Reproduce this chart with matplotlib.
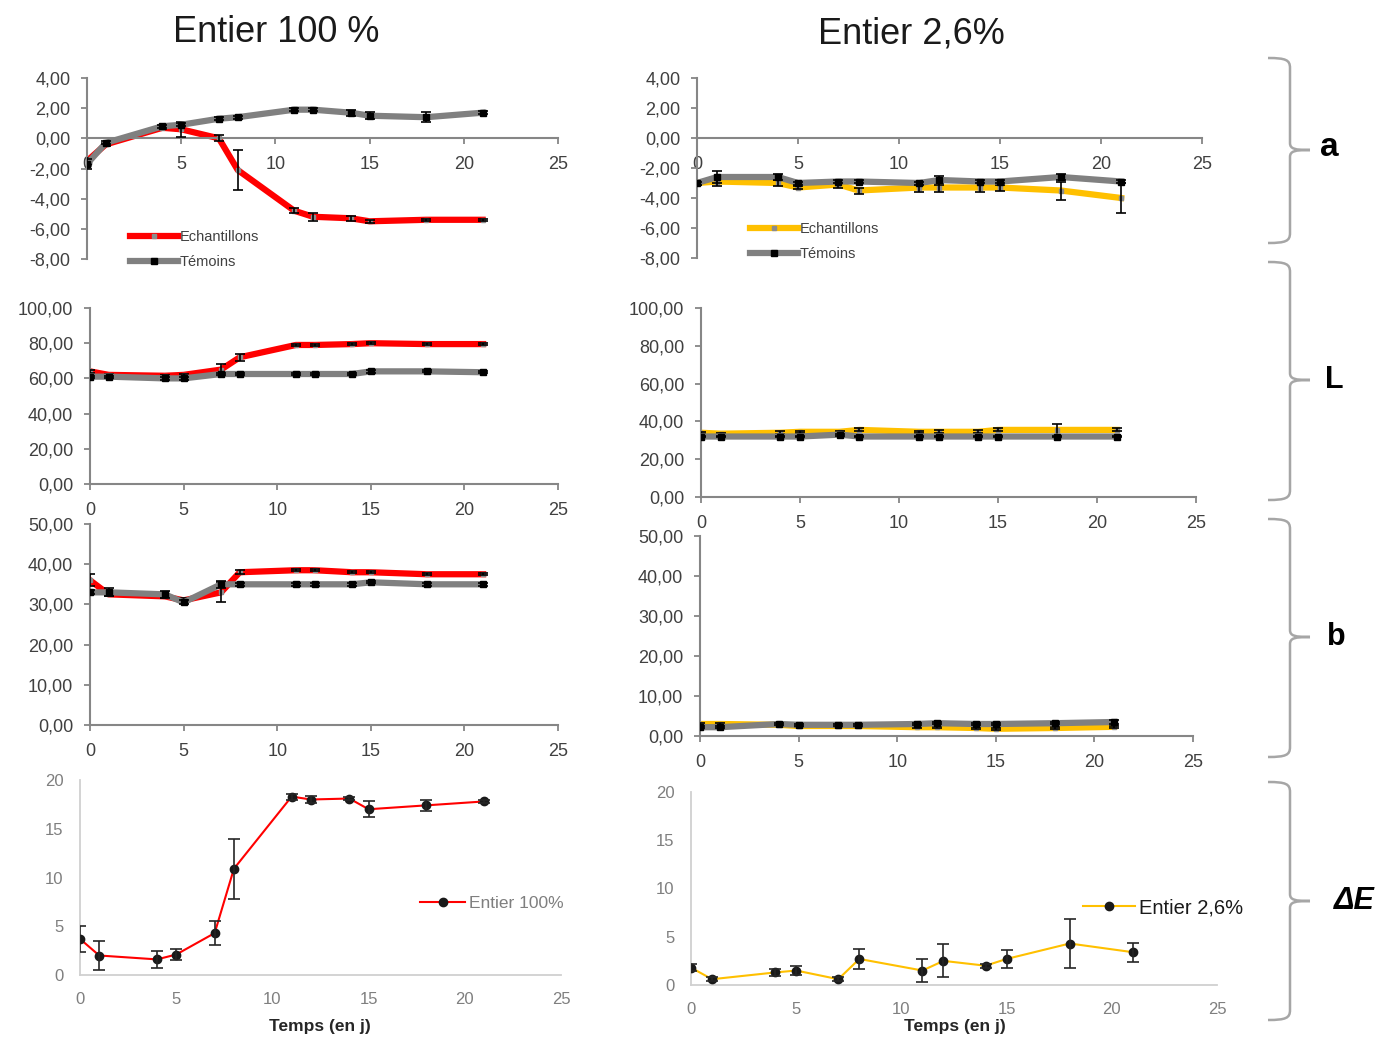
import matplotlib.pyplot as plt
import numpy as np
from matplotlib.path import Path
from matplotlib.patches import PathPatch
from matplotlib.ticker import FuncFormatter, MultipleLocator

plt.rcParams['font.family'] = ['Liberation Sans', 'DejaVu Sans']

# Days of measurement
days = [0, 1, 4, 5, 7, 8, 11, 12, 14, 15, 18, 21]

# Parameter a
a_100_ech = [-1.5, -0.4, 0.7, 0.6, 0.0, -2.1, -4.8, -5.2, -5.3, -5.5, -5.4, -5.4]
a_100_ech_err = [0.2, 0.1, 0.1, 0.5, 0.2, 1.3, 0.15, 0.25, 0.15, 0.1, 0.05, 0.05]
a_100_tem = [-1.7, -0.3, 0.8, 0.9, 1.3, 1.4, 1.9, 1.9, 1.7, 1.5, 1.4, 1.7]
a_100_tem_err = [0.3, 0.1, 0.1, 0.1, 0.1, 0.1, 0.1, 0.1, 0.2, 0.25, 0.35, 0.1]
a_26_ech = [-3.0, -2.9, -3.0, -3.3, -3.1, -3.5, -3.3, -3.3, -3.3, -3.3, -3.5, -4.0]
a_26_ech_err = [0.1, 0.3, 0.2, 0.1, 0.2, 0.2, 0.3, 0.3, 0.3, 0.2, 0.6, 1.0]
a_26_tem = [-3.0, -2.6, -2.6, -3.0, -2.9, -2.9, -3.0, -2.8, -2.9, -2.9, -2.6, -2.9]
a_26_tem_err = [0.1, 0.4, 0.2, 0.1, 0.1, 0.1, 0.1, 0.3, 0.1, 0.1, 0.2, 0.1]

# Parameter L
L_100_ech = [64, 62, 61.5, 62, 65, 72, 79, 79, 79.5, 80, 79.5, 79.5]
L_100_ech_err = [1.0, 0.5, 0.5, 0.5, 3.0, 2.0, 0.8, 0.8, 0.5, 0.5, 0.5, 0.5]
L_100_tem = [61, 61, 60, 60, 62.5, 62.5, 62.5, 62.5, 62.5, 64, 64, 63.5]
L_100_tem_err = [0.5, 0.5, 0.8, 0.8, 0.8, 0.5, 0.5, 0.5, 0.8, 0.8, 0.5, 0.5]
L_26_ech = [34, 33.5, 34, 34.5, 34.5, 35.5, 34.5, 34.5, 34.5, 35.5, 35.5, 35.5]
L_26_ech_err = [0.5, 0.5, 0.8, 0.5, 0.5, 0.8, 0.5, 0.8, 0.8, 0.8, 3.0, 0.8]
L_26_tem = [32, 32, 32, 32, 33, 32, 32, 32, 32, 32, 32, 32]
L_26_tem_err = [0.5, 0.5, 0.5, 0.5, 0.5, 0.5, 0.5, 0.5, 0.5, 0.5, 0.5, 0.5]

# Parameter b
b_100_ech = [36, 32.5, 32, 31, 33, 38, 38.5, 38.5, 38, 38, 37.5, 37.5]
b_100_ech_err = [1.5, 0.5, 0.5, 0.5, 2.5, 0.5, 0.3, 0.3, 0.3, 0.3, 0.3, 0.3]
b_100_tem = [33, 33, 32.5, 30.5, 35, 35, 35, 35, 35, 35.5, 35, 35]
b_100_tem_err = [0.5, 1.0, 0.8, 0.5, 0.8, 0.3, 0.3, 0.3, 0.3, 0.3, 0.3, 0.3]
b_26_ech = [3.0, 3.0, 2.8, 2.5, 2.5, 2.5, 2.2, 2.2, 2.0, 1.8, 2.0, 2.3]
b_26_ech_err = [0.2, 0.2, 0.2, 0.2, 0.2, 0.2, 0.2, 0.2, 0.2, 0.3, 0.2, 0.3]
b_26_tem = [2.2, 2.2, 3.0, 2.8, 2.8, 2.8, 3.0, 3.2, 3.0, 3.0, 3.2, 3.5]
b_26_tem_err = [0.3, 0.3, 0.3, 0.3, 0.3, 0.3, 0.3, 0.3, 0.3, 0.3, 0.3, 0.5]

# Delta E
dE_100 = [3.7, 2.0, 1.6, 2.1, 4.3, 10.9, 18.3, 18.0, 18.1, 17.0, 17.4, 17.8]
dE_100_err = [1.3, 1.5, 0.9, 0.6, 1.2, 3.1, 0.3, 0.4, 0.2, 0.8, 0.6, 0.2]
dE_26 = [1.8, 0.6, 1.3, 1.5, 0.6, 2.7, 1.5, 2.5, 2.0, 2.7, 4.3, 3.4]
dE_26_err = [0.4, 0.2, 0.4, 0.5, 0.2, 1.0, 1.2, 1.7, 0.2, 0.9, 2.5, 1.0]

W, H = 1384, 1041
fig = plt.figure(figsize=(W / 100, H / 100), dpi=100)

RED = '#ff0000'
YEL = '#ffc000'
GRAY = '#808080'
AX_COL = '#868686'


def box(x0, x1, top, bottom):
    # pixel box -> figure fraction rect
    return [x0 / W, 1 - bottom / H, (x1 - x0) / W, (bottom - top) / H]


def comma(v, pos):
    return f"{v:.2f}".replace('.', ',').replace('-0,00', '0,00')


def lab_panel(rect, ylim, step, cross_zero=False):
    ax = fig.add_axes(rect)
    ax.set_xlim(0, 25)
    ax.set_ylim(*ylim)
    ax.xaxis.set_major_locator(MultipleLocator(5))
    ax.yaxis.set_major_locator(MultipleLocator(step))
    ax.yaxis.set_major_formatter(FuncFormatter(comma))
    for s in ['top', 'right']:
        ax.spines[s].set_visible(False)
    for s in ['left', 'bottom']:
        ax.spines[s].set_color(AX_COL)
        ax.spines[s].set_linewidth(1.5)
    if cross_zero:
        ax.spines['bottom'].set_position(('data', 0))
    ax.tick_params(colors=AX_COL, labelcolor='#404040', labelsize=13,
                   length=4, width=1.3, direction='out')
    ax.tick_params(axis='y', pad=8)
    ax.tick_params(axis='x', pad=9)
    ax.patch.set_visible(False)
    return ax


def draw_pair(ax, ech, ech_err, tem, tem_err, col):
    ax.plot(days, ech, color=col, lw=4.5, marker='s', ms=3, mfc='#8c8c8c',
            mec='#8c8c8c', label='Echantillons', zorder=2, solid_joinstyle='round')
    ax.errorbar(days, ech, yerr=ech_err, fmt='none', ecolor='black',
                elinewidth=1.2, capsize=3.5, capthick=1.2, zorder=3)
    ax.plot(days, tem, color=GRAY, lw=4.5, marker='s', ms=4.5, mfc='black',
            mec='black', label='Témoins', zorder=4, solid_joinstyle='round')
    ax.errorbar(days, tem, yerr=tem_err, fmt='none', ecolor='black',
                elinewidth=1.2, capsize=3.5, capthick=1.2, zorder=5)


def de_panel(rect, vals, err, col, label, leg_anchor, leg_size, leg_color, xlab_x):
    ax = fig.add_axes(rect)
    ax.set_xlim(0, 25)
    ax.set_ylim(0, 20)
    ax.xaxis.set_major_locator(MultipleLocator(5))
    ax.yaxis.set_major_locator(MultipleLocator(5))
    for s in ['top', 'right']:
        ax.spines[s].set_visible(False)
    for s in ['left', 'bottom']:
        ax.spines[s].set_color('#d0d0d0')
        ax.spines[s].set_linewidth(1.3)
    ax.tick_params(length=0, labelcolor='#7f7f7f', labelsize=12)
    ax.tick_params(axis='y', pad=12)
    ax.tick_params(axis='x', pad=12)
    ax.plot(days, vals, color=col, lw=1.5, marker='o', ms=6, mfc='#1a1a1a',
            mec='#1a1a1a', label=label, zorder=3)
    ax.errorbar(days, vals, yerr=err, fmt='none', ecolor='#262626',
                elinewidth=1.2, capsize=4, capthick=1.2, zorder=4)
    fig.text(xlab_x / W, 1 - 1027 / H, 'Temps (en j)', fontsize=12.5,
             fontweight='bold', color='#262626', ha='center', va='center')
    leg = ax.legend(loc='center left', bbox_to_anchor=leg_anchor,
                    bbox_transform=fig.transFigure, frameon=False,
                    fontsize=leg_size, handlelength=2.6, handletextpad=0.2,
                    borderpad=0, borderaxespad=0)
    for t in leg.get_texts():
        t.set_color(leg_color)
    ax.patch.set_visible(False)
    return ax


def small_legend(ax, x, ytop):
    leg = ax.legend(loc='upper left', bbox_to_anchor=(x / W, 1 - ytop / H),
                    bbox_transform=fig.transFigure, frameon=False, fontsize=10.5,
                    handlelength=3.3, handletextpad=0.1, labelspacing=0.75,
                    borderpad=0, borderaxespad=0)
    for t in leg.get_texts():
        t.set_color('#404040')


# a panels
ax = lab_panel(box(87, 558, 78, 259), (-8, 4), 2, cross_zero=True)
draw_pair(ax, a_100_ech, a_100_ech_err, a_100_tem, a_100_tem_err, RED)
small_legend(ax, 130, 230)

ax = lab_panel(box(697, 1202, 78, 258), (-8, 4), 2, cross_zero=True)
draw_pair(ax, a_26_ech, a_26_ech_err, a_26_tem, a_26_tem_err, YEL)
small_legend(ax, 750, 222)

# L panels
ax = lab_panel(box(90, 558, 308, 484), (0, 100), 20)
draw_pair(ax, L_100_ech, L_100_ech_err, L_100_tem, L_100_tem_err, RED)
ax = lab_panel(box(701, 1196, 308, 497), (0, 100), 20)
draw_pair(ax, L_26_ech, L_26_ech_err, L_26_tem, L_26_tem_err, YEL)

# b panels
ax = lab_panel(box(90, 558, 524, 725), (0, 50), 10)
draw_pair(ax, b_100_ech, b_100_ech_err, b_100_tem, b_100_tem_err, RED)
ax = lab_panel(box(700, 1193, 536, 736), (0, 50), 10)
draw_pair(ax, b_26_ech, b_26_ech_err, b_26_tem, b_26_tem_err, YEL)

# Delta E panels
de_panel(box(80, 561, 780, 975), dE_100, dE_100_err, RED, 'Entier 100%',
         (420 / W, 1 - 903 / H), 12.5, '#7f7f7f', 320)
de_panel(box(691, 1217, 792, 985), dE_26, dE_26_err, YEL, 'Entier 2,6%',
         (1083 / W, 1 - 908 / H), 14.5, '#1a1a1a', 955)

# Titles
fig.text(276 / W, 1 - 32 / H, 'Entier 100 %', fontsize=26, ha='center',
         va='center', color='#1a1a1a')
fig.text(911 / W, 1 - 34 / H, 'Entier 2,6%', fontsize=26, ha='center',
         va='center', color='#1a1a1a')

# Braces with labels on the right
over = fig.add_axes([0, 0, 1, 1], zorder=-1)
over.set_xlim(0, W)
over.set_ylim(H, 0)
over.axis('off')


def brace(x, y0, y1, ym):
    verts = [(x - 22, y0), (x - 4, y0), (x, y0 + 2), (x, y0 + 10),
             (x, ym - 7), (x, ym - 1), (x + 5, ym), (x + 20, ym),
             (x + 20, ym), (x + 5, ym), (x, ym + 1), (x, ym + 7),
             (x, y1 - 10), (x, y1 - 2), (x - 4, y1), (x - 22, y1)]
    codes = [Path.MOVETO, Path.CURVE4, Path.CURVE4, Path.CURVE4,
             Path.LINETO, Path.CURVE4, Path.CURVE4, Path.CURVE4,
             Path.MOVETO, Path.CURVE4, Path.CURVE4, Path.CURVE4,
             Path.LINETO, Path.CURVE4, Path.CURVE4, Path.CURVE4]
    over.add_patch(PathPatch(Path(verts, codes), fill=False,
                             edgecolor='#a6a6a6', lw=1.8))


brace(1290, 58, 243, 150)
brace(1290, 262, 500, 380)
brace(1290, 519, 757, 637)
brace(1290, 782, 1020, 901)

over.text(1320, 148, 'a', fontsize=24, fontweight='bold', va='center', ha='left')
over.text(1325, 380, 'L', fontsize=22, fontweight='bold', va='center', ha='left')
over.text(1327, 637, 'b', fontsize=22, fontweight='bold', va='center', ha='left')
over.text(1334, 901, 'ΔE', fontsize=22, fontweight='bold', fontstyle='italic',
          va='center', ha='left')

fig.savefig('out.png', dpi=100)
